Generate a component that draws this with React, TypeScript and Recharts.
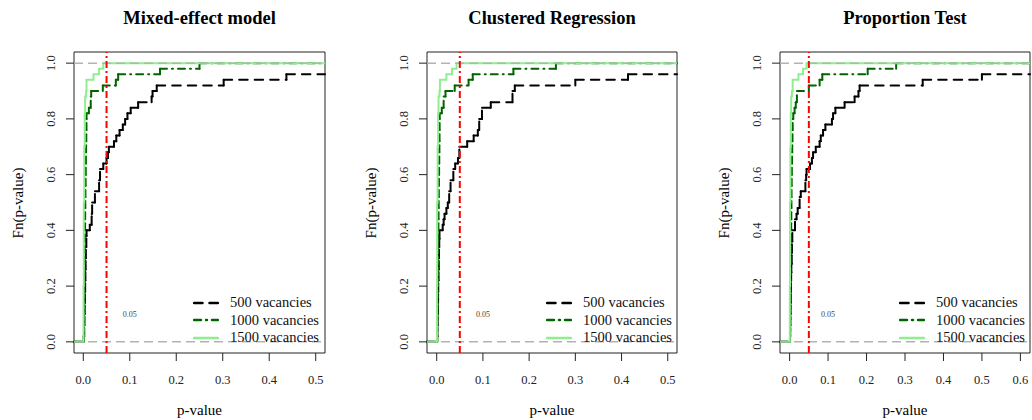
import React from 'react';
import { LineChart, Line, XAxis, YAxis, ReferenceLine, ReferenceArea, ReferenceDot } from 'recharts';

// legend / series styling order: 500, 1000, 1500 vacancies
const seriesNames = ['500 vacancies', '1000 vacancies', '1500 vacancies'];
const seriesColors = ['#000000', '#006400', '#90ee90'];
const seriesDash = ['8.5 7', '7 5 1 5', undefined];

const yTicks = [0, 0.2, 0.4, 0.6, 0.8, 1.0];
const xTicksShort = [0, 0.1, 0.2, 0.3, 0.4, 0.5];
const xTicksLong = [0, 0.1, 0.2, 0.3, 0.4, 0.5, 0.6];

// Mixed-effect model: step positions (p) and ECDF level after the step (F)
const mixed500P = [0.001, 0.002, 0.0025, 0.003, 0.0035, 0.004, 0.0045, 0.005, 0.0055, 0.0065, 0.007, 0.014, 0.018, 0.019, 0.025, 0.034, 0.036, 0.043, 0.05, 0.053, 0.055, 0.066, 0.071, 0.078, 0.085, 0.09, 0.095, 0.102, 0.118, 0.147, 0.149, 0.158, 0.302, 0.437];
const mixed500F = [0.02, 0.06, 0.1, 0.14, 0.18, 0.22, 0.26, 0.3, 0.34, 0.38, 0.4, 0.42, 0.46, 0.5, 0.54, 0.58, 0.62, 0.64, 0.66, 0.68, 0.7, 0.72, 0.74, 0.76, 0.78, 0.8, 0.82, 0.84, 0.86, 0.88, 0.9, 0.92, 0.94, 0.96];
const mixed1000P = [0.0012, 0.0015, 0.0018, 0.002, 0.0022, 0.0025, 0.0028, 0.003, 0.0033, 0.0035, 0.0038, 0.004, 0.0043, 0.0046, 0.005, 0.0053, 0.0056, 0.006, 0.0064, 0.0068, 0.007, 0.012, 0.016, 0.017, 0.042, 0.07, 0.075, 0.165, 0.25];
const mixed1000F = [0.04, 0.08, 0.12, 0.16, 0.2, 0.24, 0.28, 0.32, 0.36, 0.4, 0.44, 0.48, 0.52, 0.56, 0.6, 0.64, 0.68, 0.72, 0.76, 0.8, 0.82, 0.84, 0.88, 0.9, 0.92, 0.94, 0.96, 0.98, 1.0];
const mixed1500P = [0.0005, 0.001, 0.002, 0.003, 0.004, 0.006, 0.007, 0.022, 0.034, 0.043];
const mixed1500F = [0.2, 0.5, 0.7, 0.82, 0.88, 0.9, 0.94, 0.96, 0.98, 1.0];

// Clustered Regression
const cluster500P = [0.001, 0.0015, 0.002, 0.0025, 0.003, 0.0033, 0.004, 0.0045, 0.005, 0.0055, 0.006, 0.013, 0.015, 0.017, 0.021, 0.024, 0.027, 0.03, 0.036, 0.04, 0.046, 0.049, 0.066, 0.08, 0.089, 0.092, 0.098, 0.117, 0.164, 0.169, 0.3, 0.414];
const cluster500F = [0.02, 0.06, 0.1, 0.14, 0.18, 0.22, 0.26, 0.3, 0.34, 0.37, 0.4, 0.42, 0.44, 0.46, 0.48, 0.5, 0.54, 0.58, 0.62, 0.64, 0.66, 0.7, 0.72, 0.74, 0.76, 0.8, 0.84, 0.86, 0.9, 0.92, 0.94, 0.96];
const cluster1000P = [0.0012, 0.0015, 0.0017, 0.002, 0.0022, 0.0024, 0.0027, 0.003, 0.0032, 0.0035, 0.0037, 0.004, 0.0043, 0.0046, 0.0049, 0.0052, 0.0055, 0.0058, 0.0061, 0.0063, 0.0065, 0.011, 0.015, 0.019, 0.039, 0.069, 0.078, 0.166, 0.258];
const cluster1000F = [0.04, 0.08, 0.12, 0.16, 0.2, 0.24, 0.28, 0.32, 0.36, 0.4, 0.44, 0.48, 0.52, 0.56, 0.6, 0.64, 0.68, 0.72, 0.76, 0.8, 0.82, 0.84, 0.88, 0.9, 0.92, 0.94, 0.96, 0.98, 1.0];
const cluster1500P = [0.0005, 0.001, 0.002, 0.003, 0.004, 0.006, 0.007, 0.021, 0.033, 0.043];
const cluster1500F = [0.2, 0.5, 0.7, 0.82, 0.88, 0.9, 0.94, 0.96, 0.98, 1.0];

// Proportion Test
const prop500P = [0.001, 0.0015, 0.002, 0.0025, 0.003, 0.0035, 0.004, 0.0045, 0.0055, 0.006, 0.007, 0.014, 0.018, 0.021, 0.026, 0.029, 0.041, 0.043, 0.044, 0.053, 0.058, 0.061, 0.068, 0.078, 0.081, 0.087, 0.093, 0.11, 0.113, 0.119, 0.143, 0.169, 0.179, 0.182, 0.346, 0.5];
const prop500F = [0.02, 0.06, 0.1, 0.14, 0.18, 0.22, 0.25, 0.28, 0.32, 0.36, 0.4, 0.44, 0.46, 0.48, 0.52, 0.54, 0.58, 0.6, 0.62, 0.64, 0.66, 0.68, 0.7, 0.72, 0.74, 0.76, 0.78, 0.8, 0.82, 0.84, 0.86, 0.88, 0.9, 0.92, 0.94, 0.96];
const prop1000P = [0.0012, 0.0015, 0.0018, 0.002, 0.0023, 0.0026, 0.0029, 0.0032, 0.0035, 0.0038, 0.0041, 0.0044, 0.0047, 0.005, 0.0054, 0.0058, 0.0063, 0.0068, 0.0074, 0.008, 0.0095, 0.013, 0.016, 0.019, 0.05, 0.078, 0.085, 0.203, 0.277];
const prop1000F = [0.04, 0.08, 0.12, 0.16, 0.2, 0.24, 0.28, 0.32, 0.36, 0.4, 0.44, 0.48, 0.52, 0.56, 0.6, 0.64, 0.68, 0.72, 0.76, 0.8, 0.82, 0.84, 0.86, 0.9, 0.92, 0.94, 0.96, 0.98, 1.0];
const prop1500P = [0.0005, 0.001, 0.002, 0.003, 0.004, 0.006, 0.008, 0.023, 0.035, 0.044];
const prop1500F = [0.2, 0.5, 0.7, 0.82, 0.88, 0.9, 0.94, 0.96, 0.98, 1.0];

const FONT = "'Liberation Serif', 'DejaVu Serif', serif";
const Y_DOMAIN = [-0.04, 1.04];

// ecdf as plotted by R: flat at 0 from the left edge, flat after the last jump to the right edge
function toSteps(p: number[], f: number[], dom: number[]) {
  const pts = [{ x: dom[0], y: 0 }];
  p.forEach((v, i) => pts.push({ x: v, y: f[i] }));
  pts.push({ x: dom[1], y: f[f.length - 1] });
  return pts;
}

// R draws each horizontal/vertical piece as its own segment, so the dash pattern restarts
function toSegments(p: number[], f: number[], dom: number[]) {
  const segs: any[] = [];
  let px = dom[0];
  let py = 0;
  p.forEach((x, i) => {
    segs.push([{ x: px, y: py }, { x, y: py }]);
    segs.push([{ x, y: py }, { x, y: f[i] }]);
    px = x;
    py = f[i];
  });
  segs.push([{ x: px, y: py }, { x: dom[1], y: py }]);
  return segs;
}

function RotatedTick(props: any) {
  const { x, y, payload } = props;
  return (
    <text x={x} y={y} transform={`rotate(-90 ${x} ${y})`} textAnchor="middle" fontSize={12.5} fill="#222" fontFamily={FONT}>
      {Number(payload.value).toFixed(1)}
    </text>
  );
}

function SmallLabel(props: any) {
  const vb = props.viewBox || {};
  const x = (vb.x || 0) + (vb.width || 0) / 2;
  const y = (vb.y || 0) + (vb.height || 0) / 2;
  return (
    <text x={x} y={y} dy={3} textAnchor="middle" fontSize={8} fill="#444" fontFamily={FONT}>
      0.05
    </text>
  );
}

function Panel({ title, left, plotW, xDomain, xTicks, series }: any) {
  const axisW = 74;
  const chartW = axisW + plotW + 8;
  const cx = axisW + plotW / 2;
  const blackSegs = toSegments(series[0][0], series[0][1], xDomain);
  const greenSegs = toSegments(series[1][0], series[1][1], xDomain);
  const light = toSteps(series[2][0], series[2][1], xDomain);
  return (
    <div style={{ position: 'absolute', left, top: 0, width: chartW, height: 420, fontFamily: FONT }}>
      <div style={{ position: 'absolute', left: cx, top: 18, transform: 'translate(-50%, -50%)', fontWeight: 'bold', fontSize: 18.5, whiteSpace: 'nowrap', fontFamily: FONT }}>
        {title}
      </div>
      <div style={{ position: 'absolute', left: 18, top: 202.5, transform: 'translate(-50%, -50%) rotate(-90deg)', fontSize: 15, whiteSpace: 'nowrap', fontFamily: FONT }}>
        Fn(p-value)
      </div>
      <div style={{ position: 'absolute', left: cx, top: 410, transform: 'translate(-50%, -50%)', fontSize: 15, whiteSpace: 'nowrap', fontFamily: FONT }}>
        p-value
      </div>
      <LineChart width={chartW} height={420} margin={{ top: 52, right: 8, bottom: 37, left: 0 }}>
        <XAxis
          dataKey="x"
          type="number"
          domain={xDomain}
          ticks={xTicks}
          interval={0}
          allowDataOverflow
          axisLine={false}
          tickSize={8}
          tickMargin={14}
          height={30}
          tickLine={{ stroke: '#222' }}
          tick={{ fill: '#222', fontSize: 12.5, fontFamily: FONT }}
          tickFormatter={(v: number) => v.toFixed(1)}
        />
        <YAxis
          type="number"
          domain={Y_DOMAIN}
          ticks={yTicks}
          interval={0}
          allowDataOverflow
          width={axisW}
          axisLine={false}
          tickSize={8}
          tickMargin={11}
          tickLine={{ stroke: '#222' }}
          tick={<RotatedTick />}
        />
        <ReferenceArea x1={xDomain[0]} x2={xDomain[1]} y1={Y_DOMAIN[0]} y2={Y_DOMAIN[1]} fill="none" fillOpacity={0} stroke="#222" strokeWidth={1} />
        {blackSegs.map((seg: any, i: number) => (
          <ReferenceLine key={'b' + i} segment={seg} ifOverflow="visible" stroke={seriesColors[0]} strokeWidth={2} strokeDasharray={seriesDash[0]} strokeLinecap="round" />
        ))}
        {greenSegs.map((seg: any, i: number) => (
          <ReferenceLine key={'g' + i} segment={seg} ifOverflow="visible" stroke={seriesColors[1]} strokeWidth={2} strokeDasharray={seriesDash[1]} strokeLinecap="round" />
        ))}
        <Line data={light} dataKey="y" type="stepAfter" stroke={seriesColors[2]} strokeWidth={2} dot={false} activeDot={false} isAnimationActive={false} />
        <ReferenceLine y={0} stroke="#b3b3b3" strokeWidth={1.5} strokeDasharray="9 5" />
        <ReferenceLine y={1} stroke="#b3b3b3" strokeWidth={1.5} strokeDasharray="9 5" />
        <ReferenceLine x={0.05} stroke="#ff0000" strokeWidth={2} strokeDasharray="7 3 2 3" />
        <ReferenceDot x={0.1} y={0.1} r={0} fill="none" stroke="none" label={<SmallLabel />} />
      </LineChart>
      <div style={{ position: 'absolute', left: axisW + 119, top: 294, fontSize: 14.5, fontFamily: FONT }}>
        {seriesNames.map((name, i) => (
          <div key={name} style={{ height: 17.5, display: 'flex', alignItems: 'center' }}>
            <svg width={26} height={4} style={{ display: 'block' }}>
              <line x1={1} y1={2} x2={25} y2={2} stroke={seriesColors[i]} strokeWidth={2.5} strokeDasharray={seriesDash[i]} strokeLinecap="round" />
            </svg>
            <span style={{ marginLeft: 11, whiteSpace: 'nowrap', fontFamily: FONT, color: '#111' }}>{name}</span>
          </div>
        ))}
      </div>
    </div>
  );
}

export default function App() {
  return (
    <div style={{ position: 'absolute', left: 0, top: 0, width: 1032, height: 420, overflow: 'hidden', background: '#fff' }}>
      <Panel
        title="Mixed-effect model"
        left={0}
        plotW={251}
        xDomain={[-0.02, 0.52]}
        xTicks={xTicksShort}
        series={[[mixed500P, mixed500F], [mixed1000P, mixed1000F], [mixed1500P, mixed1500F]]}
      />
      <Panel
        title="Clustered Regression"
        left={353}
        plotW={250}
        xDomain={[-0.021, 0.52]}
        xTicks={xTicksShort}
        series={[[cluster500P, cluster500F], [cluster1000P, cluster1000F], [cluster1500P, cluster1500F]]}
      />
      <Panel
        title="Proportion Test"
        left={706}
        plotW={250}
        xDomain={[-0.025, 0.625]}
        xTicks={xTicksLong}
        series={[[prop500P, prop500F], [prop1000P, prop1000F], [prop1500P, prop1500F]]}
      />
    </div>
  );
}
